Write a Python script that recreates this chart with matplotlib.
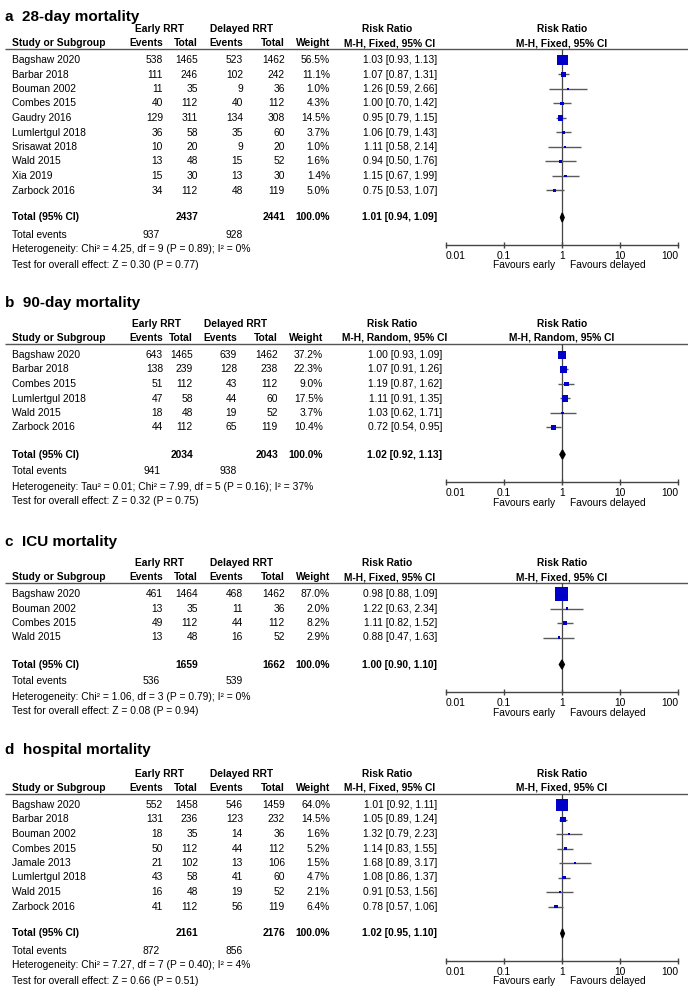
import numpy as np
import matplotlib.pyplot as plt
from matplotlib.ticker import NullLocator

plt.rcParams['font.family'] = ['Liberation Sans', 'DejaVu Sans']

# ---- data ----
# a: 28-day mortality
a_studies = ['Bagshaw 2020', 'Barbar 2018', 'Bouman 2002', 'Combes 2015', 'Gaudry 2016',
             'Lumlertgul 2018', 'Srisawat 2018', 'Wald 2015', 'Xia 2019', 'Zarbock 2016']
a_ev_early = [538, 111, 11, 40, 129, 36, 10, 13, 15, 34]
a_n_early = [1465, 246, 35, 112, 311, 58, 20, 48, 30, 112]
a_ev_delay = [523, 102, 9, 40, 134, 35, 9, 15, 13, 48]
a_n_delay = [1462, 242, 36, 112, 308, 60, 20, 52, 30, 119]
a_weight = [56.5, 11.1, 1.0, 4.3, 14.5, 3.7, 1.0, 1.6, 1.4, 5.0]
a_rr = [1.03, 1.07, 1.26, 1.00, 0.95, 1.06, 1.11, 0.94, 1.15, 0.75]
a_lo = [0.93, 0.87, 0.59, 0.70, 0.79, 0.79, 0.58, 0.50, 0.67, 0.53]
a_hi = [1.13, 1.31, 2.66, 1.42, 1.15, 1.43, 2.14, 1.76, 1.99, 1.07]
a_totals = [2437, 2441]
a_events = [937, 928]
a_pooled = [1.01, 0.94, 1.09]
a_het = 'Heterogeneity: Chi² = 4.25, df = 9 (P = 0.89); I² = 0%'
a_test = 'Test for overall effect: Z = 0.30 (P = 0.77)'

# b: 90-day mortality
b_studies = ['Bagshaw 2020', 'Barbar 2018', 'Combes 2015', 'Lumlertgul 2018', 'Wald 2015', 'Zarbock 2016']
b_ev_early = [643, 138, 51, 47, 18, 44]
b_n_early = [1465, 239, 112, 58, 48, 112]
b_ev_delay = [639, 128, 43, 44, 19, 65]
b_n_delay = [1462, 238, 112, 60, 52, 119]
b_weight = [37.2, 22.3, 9.0, 17.5, 3.7, 10.4]
b_rr = [1.00, 1.07, 1.19, 1.11, 1.03, 0.72]
b_lo = [0.93, 0.91, 0.87, 0.91, 0.62, 0.54]
b_hi = [1.09, 1.26, 1.62, 1.35, 1.71, 0.95]
b_totals = [2034, 2043]
b_events = [941, 938]
b_pooled = [1.02, 0.92, 1.13]
b_het = 'Heterogeneity: Tau² = 0.01; Chi² = 7.99, df = 5 (P = 0.16); I² = 37%'
b_test = 'Test for overall effect: Z = 0.32 (P = 0.75)'

# c: ICU mortality
c_studies = ['Bagshaw 2020', 'Bouman 2002', 'Combes 2015', 'Wald 2015']
c_ev_early = [461, 13, 49, 13]
c_n_early = [1464, 35, 112, 48]
c_ev_delay = [468, 11, 44, 16]
c_n_delay = [1462, 36, 112, 52]
c_weight = [87.0, 2.0, 8.2, 2.9]
c_rr = [0.98, 1.22, 1.11, 0.88]
c_lo = [0.88, 0.63, 0.82, 0.47]
c_hi = [1.09, 2.34, 1.52, 1.63]
c_totals = [1659, 1662]
c_events = [536, 539]
c_pooled = [1.00, 0.90, 1.10]
c_het = 'Heterogeneity: Chi² = 1.06, df = 3 (P = 0.79); I² = 0%'
c_test = 'Test for overall effect: Z = 0.08 (P = 0.94)'

# d: hospital mortality
d_studies = ['Bagshaw 2020', 'Barbar 2018', 'Bouman 2002', 'Combes 2015', 'Jamale 2013',
             'Lumlertgul 2018', 'Wald 2015', 'Zarbock 2016']
d_ev_early = [552, 131, 18, 50, 21, 43, 16, 41]
d_n_early = [1458, 236, 35, 112, 102, 58, 48, 112]
d_ev_delay = [546, 123, 14, 44, 13, 41, 19, 56]
d_n_delay = [1459, 232, 36, 112, 106, 60, 52, 119]
d_weight = [64.0, 14.5, 1.6, 5.2, 1.5, 4.7, 2.1, 6.4]
d_rr = [1.01, 1.05, 1.32, 1.14, 1.68, 1.08, 0.91, 0.78]
d_lo = [0.92, 0.89, 0.79, 0.83, 0.89, 0.86, 0.53, 0.57]
d_hi = [1.11, 1.24, 2.23, 1.55, 3.17, 1.37, 1.56, 1.06]
d_totals = [2161, 2176]
d_events = [872, 856]
d_pooled = [1.02, 0.95, 1.10]
d_het = 'Heterogeneity: Chi² = 7.27, df = 7 (P = 0.40); I² = 4%'
d_test = 'Test for overall effect: Z = 0.66 (P = 0.51)'

axis_ticks = [0.01, 0.1, 1, 10, 100]
axis_labels = ['0.01', '0.1', '1', '10', '100']

# ---- figure, background axes in pixel units ----
W, H = 688, 992
FS = 7.4
fig = plt.figure(figsize=(6.88, 9.92), dpi=100)
bg = fig.add_axes([0, 0, 1, 1])
bg.set_xlim(0, W)
bg.set_ylim(H, 0)
bg.axis('off')

GRAY = '#555555'
BLUE = '#0000c8'


def panel(letter, title, method, studies, ev_e, n_e, ev_d, n_d, weight, rr, lo, hi,
          totals, events, pooled, het, test, title_y, line_y, cols, rr_x):
    step = 14.5
    rows = line_y + 11 + step * np.arange(len(studies))
    total_y = rows[-1] + 27
    axis_y = total_y + 27

    bg.text(5, title_y, letter + '  ' + title, fontsize=11, fontweight='bold', va='center')

    # header
    hy1, hy2 = line_y - 20, line_y - 6
    bg.text((cols[0] + cols[1]) / 2 - 21, hy1, 'Early RRT', fontsize=FS, fontweight='bold', ha='center', va='center')
    bg.text((cols[2] + cols[3]) / 2 - 22, hy1, 'Delayed RRT', fontsize=FS, fontweight='bold', ha='center', va='center')
    bg.text(rr_x - 50, hy1, 'Risk Ratio', fontsize=FS, fontweight='bold', ha='center', va='center')
    bg.text(562, hy1, 'Risk Ratio', fontsize=FS, fontweight='bold', ha='center', va='center')
    bg.text(12, hy2, 'Study or Subgroup', fontsize=FS, fontweight='bold', va='center')
    for x, s in zip(cols, ['Events', 'Total', 'Events', 'Total', 'Weight']):
        bg.text(x, hy2, s, fontsize=FS, fontweight='bold', ha='right', va='center')
    mh = 'M-H, %s, 95%% CI' % method
    bg.text(rr_x - 47, hy2, mh, fontsize=FS, fontweight='bold', ha='center', va='center')
    bg.text(562, hy2, mh, fontsize=FS, fontweight='bold', ha='center', va='center')
    bg.hlines(line_y, 5, W, color=GRAY, lw=1.0)

    # study rows
    for i, y in enumerate(rows):
        bg.text(12, y, studies[i], fontsize=FS, va='center')
        vals = [ev_e[i], n_e[i], ev_d[i], n_d[i], '%.1f%%' % weight[i]]
        for x, v in zip(cols, vals):
            bg.text(x, y, str(v), fontsize=FS, ha='right', va='center')
        bg.text(rr_x, y, '%.2f [%.2f, %.2f]' % (rr[i], lo[i], hi[i]), fontsize=FS, ha='right', va='center')

    # totals
    bg.text(12, total_y, 'Total (95% CI)', fontsize=FS, fontweight='bold', va='center')
    bg.text(cols[1], total_y, str(totals[0]), fontsize=FS, fontweight='bold', ha='right', va='center')
    bg.text(cols[3], total_y, str(totals[1]), fontsize=FS, fontweight='bold', ha='right', va='center')
    bg.text(cols[4], total_y, '100.0%', fontsize=FS, fontweight='bold', ha='right', va='center')
    bg.text(rr_x, total_y, '%.2f [%.2f, %.2f]' % tuple(pooled), fontsize=FS, fontweight='bold',
            ha='right', va='center')
    bg.text(12, total_y + 17, 'Total events', fontsize=FS, va='center')
    bg.text(cols[0] - 3, total_y + 17, str(events[0]), fontsize=FS, ha='right', va='center')
    bg.text(cols[2], total_y + 17, str(events[1]), fontsize=FS, ha='right', va='center')
    bg.text(12, total_y + 32, het, fontsize=FS, va='center')
    bg.text(12, total_y + 47, test, fontsize=FS, va='center')

    # forest plot on log scale
    ax = fig.add_axes([446 / W, 1 - axis_y / H, 232 / W, (axis_y - line_y) / H])
    ax.set_xscale('log')
    ax.set_xlim(0.01, 100)
    ax.set_ylim(axis_y, line_y)
    ax.patch.set_alpha(0)
    for s in ['top', 'left', 'right']:
        ax.spines[s].set_visible(False)
    ax.spines['bottom'].set_color('#444444')
    ax.spines['bottom'].set_linewidth(1.0)
    ax.set_yticks([])
    ax.xaxis.set_minor_locator(NullLocator())
    ax.set_xticks(axis_ticks)
    ax.set_xticklabels(axis_labels, fontsize=FS)
    ax.tick_params(axis='x', direction='inout', length=5, width=1.0, color='#444444', pad=2.5)
    labels = ax.get_xticklabels()
    labels[0].set_ha('left')
    labels[-1].set_ha('right')

    ax.axvline(1, color='#444444', lw=0.9, zorder=1)
    ax.hlines(rows, lo, hi, color='#5a5a5a', lw=1.0, zorder=2)
    side = np.maximum(2.2, 1.45 * np.sqrt(weight)) * 0.72
    ax.scatter(rr, rows, marker='s', s=side ** 2, color=BLUE, linewidths=0, zorder=3)
    p, plo, phi = pooled
    ax.fill([plo, p, phi, p], [total_y, total_y - 4.5, total_y, total_y + 4.5], color='black', zorder=3)

    bg.text(555, axis_y + 21, 'Favours early', fontsize=FS, ha='right', va='center')
    bg.text(570, axis_y + 21, 'Favours delayed', fontsize=FS, ha='left', va='center')


std_cols = [163, 198, 243, 285, 330]
rand_cols = [163, 193, 237, 278, 323]

panel('a', '28-day mortality', 'Fixed', a_studies, a_ev_early, a_n_early, a_ev_delay, a_n_delay,
      a_weight, a_rr, a_lo, a_hi, a_totals, a_events, a_pooled, a_het, a_test, 17, 49, std_cols, 437)
panel('b', '90-day mortality', 'Random', b_studies, b_ev_early, b_n_early, b_ev_delay, b_n_delay,
      b_weight, b_rr, b_lo, b_hi, b_totals, b_events, b_pooled, b_het, b_test, 303, 344, rand_cols, 442)
panel('c', 'ICU mortality', 'Fixed', c_studies, c_ev_early, c_n_early, c_ev_delay, c_n_delay,
      c_weight, c_rr, c_lo, c_hi, c_totals, c_events, c_pooled, c_het, c_test, 542, 583, std_cols, 437)
panel('d', 'hospital mortality', 'Fixed', d_studies, d_ev_early, d_n_early, d_ev_delay, d_n_delay,
      d_weight, d_rr, d_lo, d_hi, d_totals, d_events, d_pooled, d_het, d_test, 750, 794, std_cols, 437)

fig.savefig('out.png', dpi=100, facecolor='white')
